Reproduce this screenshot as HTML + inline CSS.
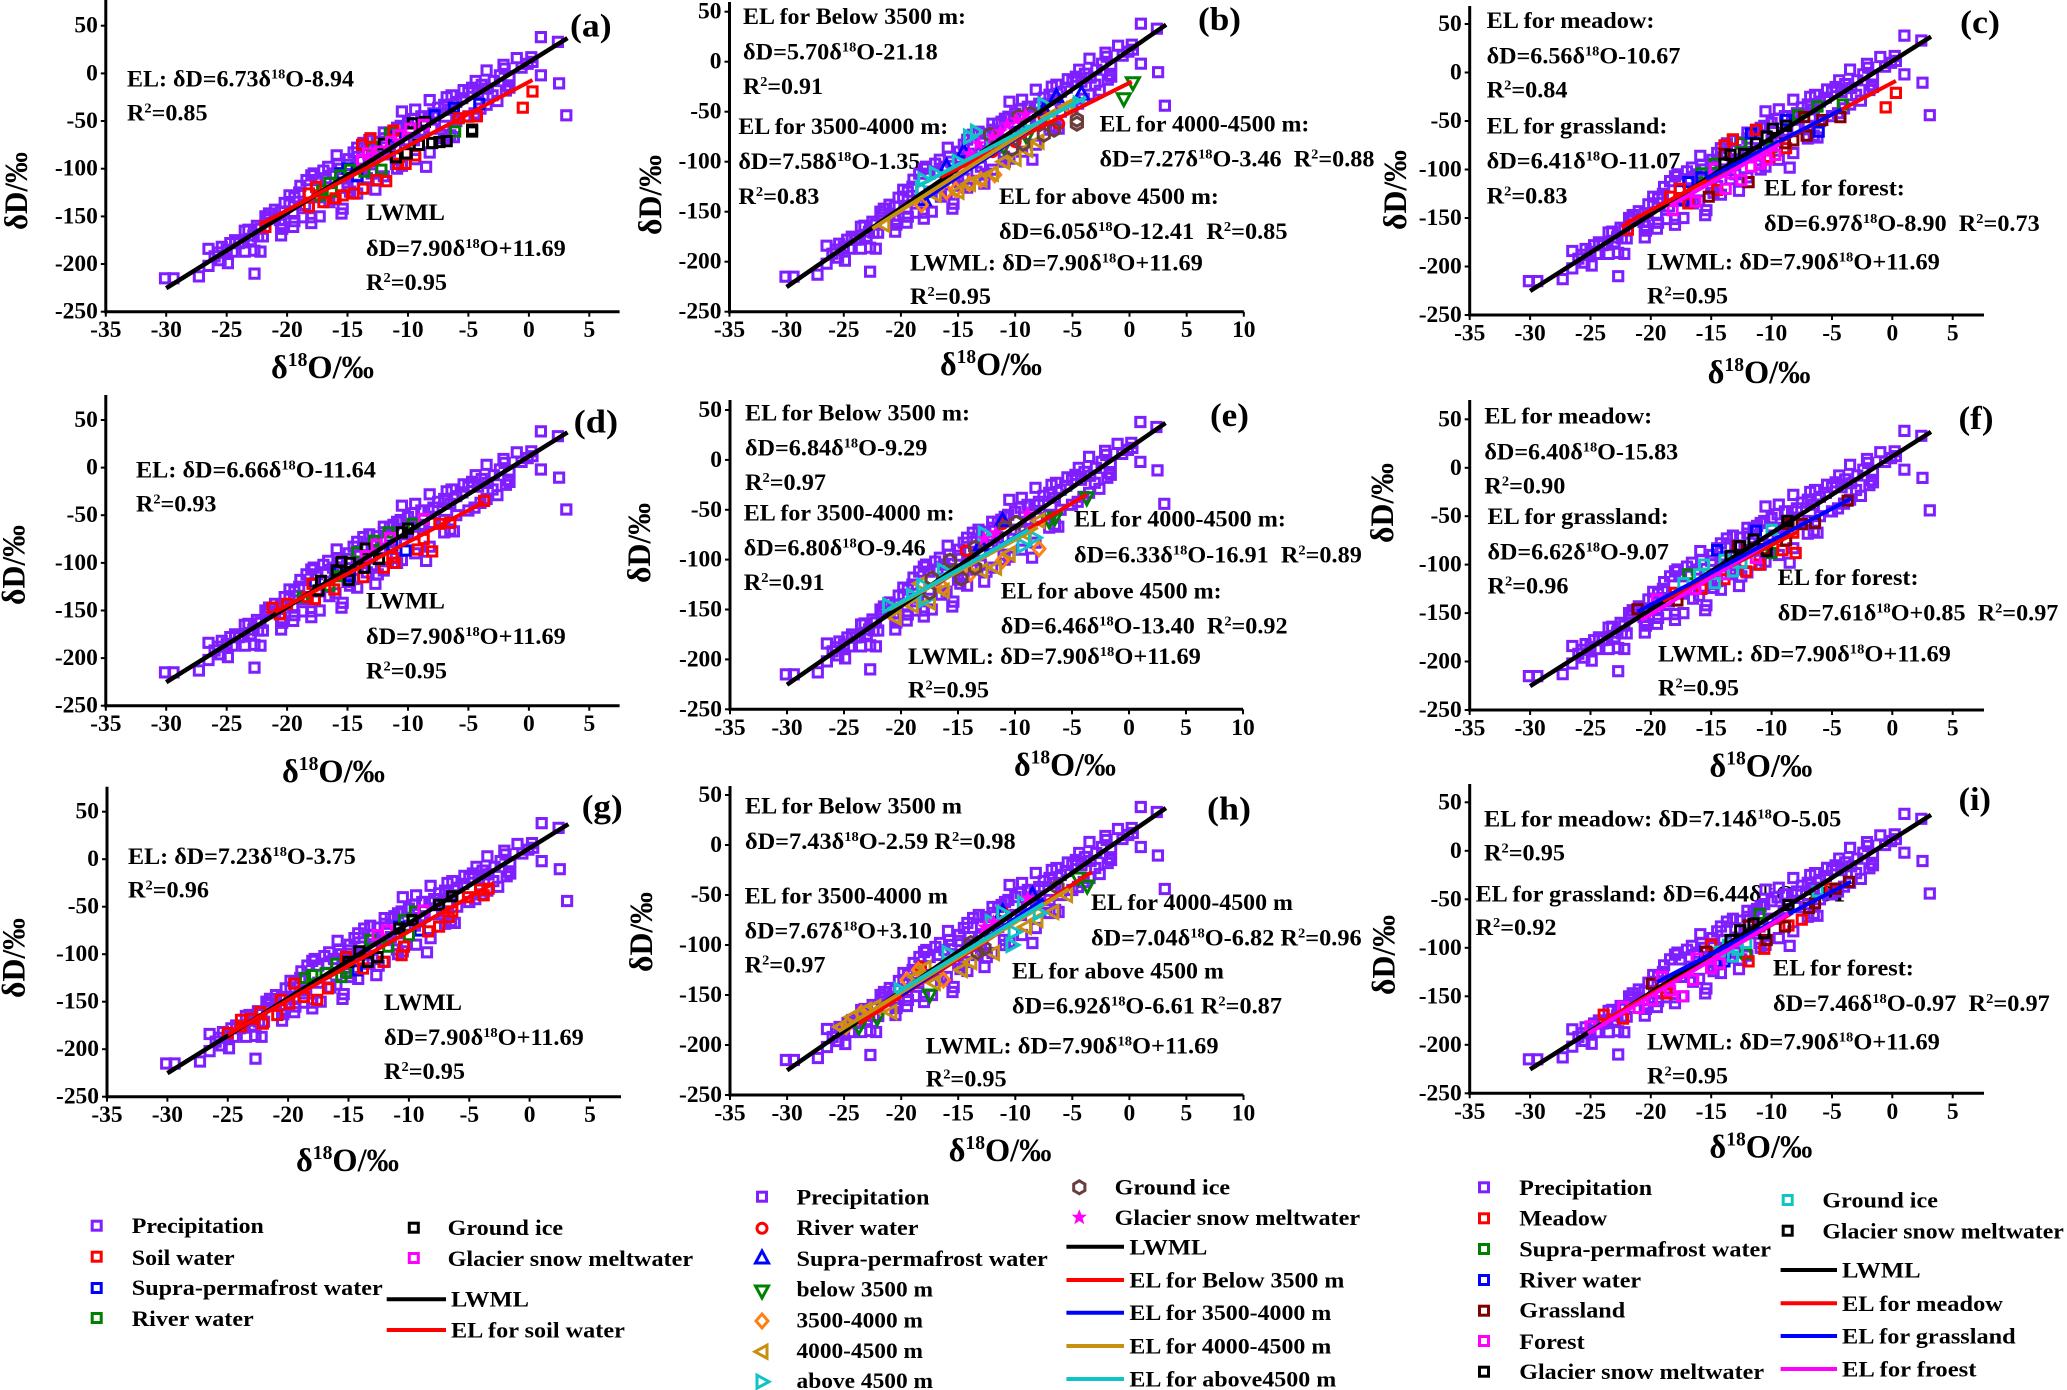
<!DOCTYPE html>
<html lang="en">
<head>
<meta charset="utf-8">
<title>Isotope scatter panels</title>
<style>
html,body{margin:0;padding:0;background:#fff;}
svg{display:block;}
text{font-family:"Liberation Serif","DejaVu Serif",serif;font-weight:bold;fill:#000;}
.t{font-size:23.5px;}
.s{font-size:14px;}
.p{font-size:33px;}
.ax{font-size:33px;}
.S{font-size:20px;}
.l{font-size:22.5px;}
.tick{font-size:23px;}
</style>
</head>
<body>
<svg id="chart" xmlns="http://www.w3.org/2000/svg" width="2067" height="1390" viewBox="0 0 2067 1390">
<rect width="2067" height="1390" fill="#fff"/>

<g id="panel-a">
<text class="t" x="127" y="86.7" data-w="227">EL: δD=6.73δ<tspan class="s" dy="-8">18</tspan><tspan dy="8">O</tspan>-8.94</text>
<text class="t" x="127" y="120.7" data-w="80.6">R<tspan class="s" dy="-8">2</tspan><tspan dy="8">=</tspan>0.85</text>
<text class="t" x="366" y="220" data-w="79">LWML</text>
<text class="t" x="366" y="256" data-w="200">δD=7.90δ<tspan class="s" dy="-8">18</tspan><tspan dy="8">O</tspan>+11.69</text>
<text class="t" x="366" y="290" data-w="81">R<tspan class="s" dy="-8">2</tspan><tspan dy="8">=</tspan>0.95</text>
<text class="p" x="570" y="36.7" data-w="41.6">(a)</text>
<text class="ax" x="27" y="230" transform="rotate(-90 27 230)" data-w="78">δD/‰</text>
<text class="ax" x="271" y="378" data-w="103">δ<tspan class="S" dy="-12">18</tspan><tspan dy="12">O</tspan>/‰</text>
</g>

<g id="panel-b">
<text class="t" x="743" y="24" data-w="223">EL for Below 3500 m:</text>
<text class="t" x="743" y="59.3" data-w="195">δD=5.70δ<tspan class="s" dy="-8">18</tspan><tspan dy="8">O</tspan>-21.18</text>
<text class="t" x="743" y="94" data-w="80">R<tspan class="s" dy="-8">2</tspan><tspan dy="8">=</tspan>0.91</text>
<text class="t" x="738.4" y="134" data-w="210">EL for 3500-4000 m:</text>
<text class="t" x="738.4" y="169" data-w="182">δD=7.58δ<tspan class="s" dy="-8">18</tspan><tspan dy="8">O</tspan>-1.35</text>
<text class="t" x="738.4" y="204" data-w="81">R<tspan class="s" dy="-8">2</tspan><tspan dy="8">=</tspan>0.83</text>
<text class="t" x="1099.5" y="131.7" data-w="210">EL for 4000-4500 m:</text>
<text class="t" x="1099.5" y="166.7" data-w="275" xml:space="preserve">δD=7.27δ<tspan class="s" dy="-8">18</tspan><tspan dy="8">O</tspan>-3.46  R<tspan class="s" dy="-8">2</tspan><tspan dy="8">=</tspan>0.88</text>
<text class="t" x="999" y="204" data-w="220">EL for above 4500 m:</text>
<text class="t" x="999" y="239" data-w="288.5" xml:space="preserve">δD=6.05δ<tspan class="s" dy="-8">18</tspan><tspan dy="8">O</tspan>-12.41  R<tspan class="s" dy="-8">2</tspan><tspan dy="8">=</tspan>0.85</text>
<text class="t" x="910" y="270.7" data-w="293">LWML: δD=7.90δ<tspan class="s" dy="-8">18</tspan><tspan dy="8">O</tspan>+11.69</text>
<text class="t" x="910" y="304" data-w="81">R<tspan class="s" dy="-8">2</tspan><tspan dy="8">=</tspan>0.95</text>
<text class="p" x="1198" y="30" data-w="43">(b)</text>
<text class="ax" x="661" y="235" transform="rotate(-90 661 235)" data-w="80">δD/‰</text>
<text class="ax" x="940" y="375" data-w="102">δ<tspan class="S" dy="-12">18</tspan><tspan dy="12">O</tspan>/‰</text>
</g>

<g id="panel-c">
<text class="t" x="1486.6" y="28" data-w="168">EL for meadow:</text>
<text class="t" x="1486.6" y="63.3" data-w="194">δD=6.56δ<tspan class="s" dy="-8">18</tspan><tspan dy="8">O</tspan>-10.67</text>
<text class="t" x="1486.6" y="97.3" data-w="81">R<tspan class="s" dy="-8">2</tspan><tspan dy="8">=</tspan>0.84</text>
<text class="t" x="1486.6" y="133.3" data-w="181">EL for grassland:</text>
<text class="t" x="1486.6" y="168.3" data-w="194">δD=6.41δ<tspan class="s" dy="-8">18</tspan><tspan dy="8">O</tspan>-11.07</text>
<text class="t" x="1486.6" y="203.3" data-w="81">R<tspan class="s" dy="-8">2</tspan><tspan dy="8">=</tspan>0.83</text>
<text class="t" x="1764" y="195.7" data-w="141">EL for forest:</text>
<text class="t" x="1764" y="231" data-w="276" xml:space="preserve">δD=6.97δ<tspan class="s" dy="-8">18</tspan><tspan dy="8">O</tspan>-8.90  R<tspan class="s" dy="-8">2</tspan><tspan dy="8">=</tspan>0.73</text>
<text class="t" x="1647" y="269.3" data-w="293">LWML: δD=7.90δ<tspan class="s" dy="-8">18</tspan><tspan dy="8">O</tspan>+11.69</text>
<text class="t" x="1647" y="303.3" data-w="81">R<tspan class="s" dy="-8">2</tspan><tspan dy="8">=</tspan>0.95</text>
<text class="p" x="1960" y="33" data-w="40">(c)</text>
<text class="ax" x="1406" y="230" transform="rotate(-90 1406 230)" data-w="80">δD/‰</text>
<text class="ax" x="1707.6" y="383" data-w="103">δ<tspan class="S" dy="-12">18</tspan><tspan dy="12">O</tspan>/‰</text>
</g>

<g id="panel-d">
<text class="t" x="136" y="477.3" data-w="240">EL: δD=6.66δ<tspan class="s" dy="-8">18</tspan><tspan dy="8">O</tspan>-11.64</text>
<text class="t" x="136" y="511.7" data-w="80.5">R<tspan class="s" dy="-8">2</tspan><tspan dy="8">=</tspan>0.93</text>
<text class="t" x="366" y="608.3" data-w="79">LWML</text>
<text class="t" x="366" y="644" data-w="200">δD=7.90δ<tspan class="s" dy="-8">18</tspan><tspan dy="8">O</tspan>+11.69</text>
<text class="t" x="366" y="678.3" data-w="81">R<tspan class="s" dy="-8">2</tspan><tspan dy="8">=</tspan>0.95</text>
<text class="p" x="573.7" y="432.7" data-w="44.5">(d)</text>
<text class="ax" x="24.5" y="605" transform="rotate(-90 24.5 605)" data-w="80">δD/‰</text>
<text class="ax" x="282" y="782" data-w="103">δ<tspan class="S" dy="-12">18</tspan><tspan dy="12">O</tspan>/‰</text>
</g>

<g id="panel-e">
<text class="t" x="745" y="420.7" data-w="225">EL for Below 3500 m:</text>
<text class="t" x="745" y="455.7" data-w="182.5">δD=6.84δ<tspan class="s" dy="-8">18</tspan><tspan dy="8">O</tspan>-9.29</text>
<text class="t" x="745" y="490" data-w="81">R<tspan class="s" dy="-8">2</tspan><tspan dy="8">=</tspan>0.97</text>
<text class="t" x="743.7" y="520.7" data-w="211">EL for 3500-4000 m:</text>
<text class="t" x="743.7" y="555.7" data-w="182">δD=6.80δ<tspan class="s" dy="-8">18</tspan><tspan dy="8">O</tspan>-9.46</text>
<text class="t" x="743.7" y="590" data-w="81">R<tspan class="s" dy="-8">2</tspan><tspan dy="8">=</tspan>0.91</text>
<text class="t" x="1074" y="526.7" data-w="212">EL for 4000-4500 m:</text>
<text class="t" x="1074" y="562.3" data-w="288" xml:space="preserve">δD=6.33δ<tspan class="s" dy="-8">18</tspan><tspan dy="8">O</tspan>-16.91  R<tspan class="s" dy="-8">2</tspan><tspan dy="8">=</tspan>0.89</text>
<text class="t" x="1000.7" y="598.3" data-w="221">EL for above 4500 m:</text>
<text class="t" x="1000.7" y="633.3" data-w="287" xml:space="preserve">δD=6.46δ<tspan class="s" dy="-8">18</tspan><tspan dy="8">O</tspan>-13.40  R<tspan class="s" dy="-8">2</tspan><tspan dy="8">=</tspan>0.92</text>
<text class="t" x="908" y="664" data-w="293">LWML: δD=7.90δ<tspan class="s" dy="-8">18</tspan><tspan dy="8">O</tspan>+11.69</text>
<text class="t" x="908" y="697.3" data-w="81">R<tspan class="s" dy="-8">2</tspan><tspan dy="8">=</tspan>0.95</text>
<text class="p" x="1210" y="426" data-w="39">(e)</text>
<text class="ax" x="650" y="583" transform="rotate(-90 650 583)" data-w="80">δD/‰</text>
<text class="ax" x="1014" y="775.7" data-w="102">δ<tspan class="S" dy="-12">18</tspan><tspan dy="12">O</tspan>/‰</text>
</g>

<g id="panel-f">
<text class="t" x="1484.4" y="423.3" data-w="168">EL for meadow:</text>
<text class="t" x="1484.4" y="459.3" data-w="194">δD=6.40δ<tspan class="s" dy="-8">18</tspan><tspan dy="8">O</tspan>-15.83</text>
<text class="t" x="1484.4" y="493.3" data-w="81">R<tspan class="s" dy="-8">2</tspan><tspan dy="8">=</tspan>0.90</text>
<text class="t" x="1487.5" y="524" data-w="181.5">EL for grassland:</text>
<text class="t" x="1487.5" y="559.3" data-w="181.5">δD=6.62δ<tspan class="s" dy="-8">18</tspan><tspan dy="8">O</tspan>-9.07</text>
<text class="t" x="1487.5" y="593.3" data-w="81">R<tspan class="s" dy="-8">2</tspan><tspan dy="8">=</tspan>0.96</text>
<text class="t" x="1777.7" y="585" data-w="141">EL for forest:</text>
<text class="t" x="1777.7" y="620.7" data-w="281" xml:space="preserve">δD=7.61δ<tspan class="s" dy="-8">18</tspan><tspan dy="8">O</tspan>+0.85  R<tspan class="s" dy="-8">2</tspan><tspan dy="8">=</tspan>0.97</text>
<text class="t" x="1658" y="661.7" data-w="293">LWML: δD=7.90δ<tspan class="s" dy="-8">18</tspan><tspan dy="8">O</tspan>+11.69</text>
<text class="t" x="1658" y="695.7" data-w="81">R<tspan class="s" dy="-8">2</tspan><tspan dy="8">=</tspan>0.95</text>
<text class="p" x="1958.5" y="429" data-w="35">(f)</text>
<text class="ax" x="1393" y="543" transform="rotate(-90 1393 543)" data-w="80">δD/‰</text>
<text class="ax" x="1709.4" y="776.7" data-w="103">δ<tspan class="S" dy="-12">18</tspan><tspan dy="12">O</tspan>/‰</text>
</g>

<g id="panel-g">
<text class="t" x="128" y="864" data-w="228">EL: δD=7.23δ<tspan class="s" dy="-8">18</tspan><tspan dy="8">O</tspan>-3.75</text>
<text class="t" x="128" y="897.7" data-w="81">R<tspan class="s" dy="-8">2</tspan><tspan dy="8">=</tspan>0.96</text>
<text class="t" x="384" y="1010" data-w="78">LWML</text>
<text class="t" x="384" y="1045" data-w="200">δD=7.90δ<tspan class="s" dy="-8">18</tspan><tspan dy="8">O</tspan>+11.69</text>
<text class="t" x="384" y="1079" data-w="81">R<tspan class="s" dy="-8">2</tspan><tspan dy="8">=</tspan>0.95</text>
<text class="p" x="581.7" y="817.3" data-w="41">(g)</text>
<text class="ax" x="24.5" y="998" transform="rotate(-90 24.5 998)" data-w="80">δD/‰</text>
<text class="ax" x="296" y="1171" data-w="103">δ<tspan class="S" dy="-12">18</tspan><tspan dy="12">O</tspan>/‰</text>
</g>

<g id="panel-h">
<text class="t" x="745" y="813.3" data-w="217">EL for Below 3500 m</text>
<text class="t" x="745" y="849" data-w="271">δD=7.43δ<tspan class="s" dy="-8">18</tspan><tspan dy="8">O</tspan>-2.59 R<tspan class="s" dy="-8">2</tspan><tspan dy="8">=</tspan>0.98</text>
<text class="t" x="744.6" y="903.3" data-w="203.5">EL for 3500-4000 m</text>
<text class="t" x="744.6" y="938.3" data-w="187.5">δD=7.67δ<tspan class="s" dy="-8">18</tspan><tspan dy="8">O</tspan>+3.10</text>
<text class="t" x="744.6" y="972.3" data-w="81">R<tspan class="s" dy="-8">2</tspan><tspan dy="8">=</tspan>0.97</text>
<text class="t" x="1091" y="910" data-w="202">EL for 4000-4500 m</text>
<text class="t" x="1091" y="945.7" data-w="271">δD=7.04δ<tspan class="s" dy="-8">18</tspan><tspan dy="8">O</tspan>-6.82 R<tspan class="s" dy="-8">2</tspan><tspan dy="8">=</tspan>0.96</text>
<text class="t" x="1012" y="978.3" data-w="212">EL for above 4500 m</text>
<text class="t" x="1012" y="1013.3" data-w="270">δD=6.92δ<tspan class="s" dy="-8">18</tspan><tspan dy="8">O</tspan>-6.61 R<tspan class="s" dy="-8">2</tspan><tspan dy="8">=</tspan>0.87</text>
<text class="t" x="925.7" y="1053.3" data-w="293">LWML: δD=7.90δ<tspan class="s" dy="-8">18</tspan><tspan dy="8">O</tspan>+11.69</text>
<text class="t" x="925.7" y="1086.7" data-w="81">R<tspan class="s" dy="-8">2</tspan><tspan dy="8">=</tspan>0.95</text>
<text class="p" x="1207" y="819.3" data-w="44">(h)</text>
<text class="ax" x="652" y="972" transform="rotate(-90 652 972)" data-w="80">δD/‰</text>
<text class="ax" x="948.6" y="1161" data-w="103">δ<tspan class="S" dy="-12">18</tspan><tspan dy="12">O</tspan>/‰</text>
</g>

<g id="panel-i">
<text class="t" x="1484" y="826.7" data-w="357.6">EL for meadow: δD=7.14δ<tspan class="s" dy="-8">18</tspan><tspan dy="8">O</tspan>-5.05</text>
<text class="t" x="1484" y="860.7" data-w="81">R<tspan class="s" dy="-8">2</tspan><tspan dy="8">=</tspan>0.95</text>
<text class="t" x="1475.5" y="901.7" data-w="370">EL for grassland: δD=6.44δ<tspan class="s" dy="-8">18</tspan><tspan dy="8">O</tspan>-9.91</text>
<text class="t" x="1475.5" y="935" data-w="81">R<tspan class="s" dy="-8">2</tspan><tspan dy="8">=</tspan>0.92</text>
<text class="t" x="1773" y="975.7" data-w="141">EL for forest:</text>
<text class="t" x="1773" y="1011" data-w="277" xml:space="preserve">δD=7.46δ<tspan class="s" dy="-8">18</tspan><tspan dy="8">O</tspan>-0.97  R<tspan class="s" dy="-8">2</tspan><tspan dy="8">=</tspan>0.97</text>
<text class="t" x="1647" y="1049.3" data-w="293">LWML: δD=7.90δ<tspan class="s" dy="-8">18</tspan><tspan dy="8">O</tspan>+11.69</text>
<text class="t" x="1647" y="1083.3" data-w="81">R<tspan class="s" dy="-8">2</tspan><tspan dy="8">=</tspan>0.95</text>
<text class="p" x="1958.5" y="810" data-w="32.5">(i)</text>
<text class="ax" x="1394.7" y="995" transform="rotate(-90 1394.7 995)" data-w="80">δD/‰</text>
<text class="ax" x="1709.4" y="1157.7" data-w="103">δ<tspan class="S" dy="-12">18</tspan><tspan dy="12">O</tspan>/‰</text>
</g>

<g id="legend-left" fill="none" stroke-width="3">
<rect x="92.2" y="1221.2" width="9" height="9" stroke="#7f1fff"/>
<text class="l" x="131.8" y="1233" data-w="132" stroke="none">Precipitation</text>
<rect x="92.2" y="1252.2" width="9" height="9" stroke="#ff0000"/>
<text class="l" x="131.8" y="1265" data-w="103" stroke="none">Soil water</text>
<rect x="92.2" y="1283.5" width="9" height="9" stroke="#0000ff"/>
<text class="l" x="131.8" y="1295" data-w="251" stroke="none">Supra-permafrost water</text>
<rect x="92.2" y="1313.5" width="9" height="9" stroke="#008000"/>
<text class="l" x="131.8" y="1326" data-w="122" stroke="none">River water</text>
<rect x="409.3" y="1223.2" width="9" height="9" stroke="#000"/>
<text class="l" x="447.6" y="1235" data-w="115.6" stroke="none">Ground ice</text>
<rect x="409.3" y="1253.5" width="9" height="9" stroke="#ff00ff"/>
<text class="l" x="447.6" y="1266" data-w="245.5" stroke="none">Glacier snow meltwater</text>
<line x1="386.7" x2="446" y1="1299.3" y2="1299.3" stroke="#000" stroke-width="4"/>
<text class="l" x="451" y="1306.7" data-w="78" stroke="none">LWML</text>
<line x1="386.7" x2="446" y1="1330" y2="1330" stroke="#ff0000" stroke-width="4"/>
<text class="l" x="451" y="1337.7" data-w="174" stroke="none">EL for soil water</text>
</g>

<g id="legend-middle" fill="none" stroke-width="3">
<rect x="757.5" y="1192.2" width="9" height="9" stroke="#7f1fff"/>
<text class="l" x="796.5" y="1204.3" data-w="133" stroke="none">Precipitation</text>
<circle cx="762" cy="1228.3" r="5" stroke="#ff0000"/>
<text class="l" x="796.5" y="1235" data-w="122" stroke="none">River water</text>
<path transform="translate(762 1258)" d="M0,-7L6.5,5L-6.5,5Z" stroke="#0000ff"/>
<text class="l" x="796.5" y="1266" data-w="251.5" stroke="none">Supra-permafrost water</text>
<path transform="translate(762 1291)" d="M0,7L6.5,-5L-6.5,-5Z" stroke="#008000"/>
<text class="l" x="796.5" y="1296.7" data-w="136.6" stroke="none">below 3500 m</text>
<path transform="translate(762 1321)" d="M0,-7L6,0L0,7L-6,0Z" stroke="#ff7f10"/>
<text class="l" x="796.5" y="1327.7" data-w="126.5" stroke="none">3500-4000 m</text>
<path transform="translate(762 1351.7)" d="M-7,0L5,-6.5L5,6.5Z" stroke="#c8900f"/>
<text class="l" x="796.5" y="1358" data-w="126.5" stroke="none">4000-4500 m</text>
<path transform="translate(762 1381.7)" d="M7,0L-5,-6.5L-5,6.5Z" stroke="#10c4c4"/>
<text class="l" x="796.5" y="1388" data-w="136.6" stroke="none">above 4500 m</text>
<path transform="translate(1079.3 1187.3)" d="M0,-6.5L5.6,-3.2L5.6,3.2L0,6.5L-5.6,3.2L-5.6,-3.2Z" stroke="#6b3e3e"/>
<text class="l" x="1114.6" y="1194.3" data-w="115.6" stroke="none">Ground ice</text>
<path transform="translate(1079.3 1217.3)" d="M0,-8L2.2,-2.5L7.6,-2.5L3.3,1L5,7L0,3.6L-5,7L-3.3,1L-7.6,-2.5L-2.2,-2.5Z" fill="#ff00ff" stroke="none"/>
<text class="l" x="1114.6" y="1225" data-w="245.5" stroke="none">Glacier snow meltwater</text>
<line x1="1066.4" x2="1124" y1="1246.7" y2="1246.7" stroke="#000" stroke-width="4"/>
<text class="l" x="1129.4" y="1254.3" data-w="78" stroke="none">LWML</text>
<line x1="1066.4" x2="1124" y1="1280" y2="1280" stroke="#ff0000" stroke-width="4"/>
<text class="l" x="1129.4" y="1287.7" data-w="215" stroke="none">EL for Below 3500 m</text>
<line x1="1066.4" x2="1124" y1="1312.7" y2="1312.7" stroke="#0000ff" stroke-width="4"/>
<text class="l" x="1129.4" y="1320" data-w="202" stroke="none">EL for 3500-4000 m</text>
<line x1="1066.4" x2="1124" y1="1346" y2="1346" stroke="#c8900f" stroke-width="4"/>
<text class="l" x="1129.4" y="1353.3" data-w="202" stroke="none">EL for 4000-4500 m</text>
<line x1="1066.4" x2="1124" y1="1379" y2="1379" stroke="#10c4c4" stroke-width="4"/>
<text class="l" x="1129.4" y="1386.7" data-w="207" stroke="none">EL for above4500 m</text>
</g>

<g id="legend-right" fill="none" stroke-width="3">
<rect x="1479.5" y="1182.8" width="9" height="9" stroke="#7f1fff"/>
<text class="l" x="1519.2" y="1195" data-w="133" stroke="none">Precipitation</text>
<rect x="1479.5" y="1213.8" width="9" height="9" stroke="#ff0000"/>
<text class="l" x="1519.2" y="1225.7" data-w="88" stroke="none">Meadow</text>
<rect x="1479.5" y="1244.5" width="9" height="9" stroke="#008000"/>
<text class="l" x="1519.2" y="1256.7" data-w="252" stroke="none">Supra-permafrost water</text>
<rect x="1479.5" y="1275.5" width="9" height="9" stroke="#0000ff"/>
<text class="l" x="1519.2" y="1287.3" data-w="122" stroke="none">River water</text>
<rect x="1479.5" y="1306.2" width="9" height="9" stroke="#800000"/>
<text class="l" x="1519.2" y="1317.7" data-w="106" stroke="none">Grassland</text>
<rect x="1479.5" y="1336.5" width="9" height="9" stroke="#ff00ff"/>
<text class="l" x="1519.2" y="1349" data-w="65.5" stroke="none">Forest</text>
<rect x="1479.5" y="1367.2" width="9" height="9" stroke="#000"/>
<text class="l" x="1519.2" y="1379" data-w="245" stroke="none">Glacier snow meltwater</text>
<rect x="1783.2" y="1195.5" width="9" height="9" stroke="#10c4c4"/>
<text class="l" x="1822.4" y="1207.7" data-w="115.6" stroke="none">Ground ice</text>
<rect x="1783.2" y="1226.2" width="9" height="9" stroke="#000"/>
<text class="l" x="1822.4" y="1238.3" data-w="241.6" stroke="none">Glacier snow meltwater</text>
<line x1="1780.6" x2="1837" y1="1270" y2="1270" stroke="#000" stroke-width="4"/>
<text class="l" x="1842" y="1277.7" data-w="78.6" stroke="none">LWML</text>
<line x1="1780.6" x2="1837" y1="1303.3" y2="1303.3" stroke="#ff0000" stroke-width="4"/>
<text class="l" x="1842" y="1311" data-w="161" stroke="none">EL for meadow</text>
<line x1="1780.6" x2="1837" y1="1336" y2="1336" stroke="#0000ff" stroke-width="4"/>
<text class="l" x="1842" y="1343.3" data-w="173.7" stroke="none">EL for grassland</text>
<line x1="1780.6" x2="1837" y1="1369" y2="1369" stroke="#ff00ff" stroke-width="4"/>
<text class="l" x="1842" y="1376.7" data-w="134.5" stroke="none">EL for froest</text>
</g>
</svg>

<script>
/* ---------- shared data ---------- */
const xTicksShort = ['-35','-30','-25','-20','-15','-10','-5','0','5'];
const xTicksLong = ['-35','-30','-25','-20','-15','-10','-5','0','5','10'];
const yTicks = ['50','0','-50','-100','-150','-200','-250'];

const precipX = [-30.1,-29.4,-27.3,-22.7,-26.5,-24.9,-25.5,-26,-26.5,-25.4,-24.7,-24.3,-24.5,-23.5,-22.7,-22.2,-23.6,-23.2,-22.4,-22,-22.2,-20.5,-20.4,-19.5,-19.4,-21.8,-21,-20.2,-19.8,-20.6,-18.7,-18,-17.3,-18,-18.9,-18,-17,-15.9,-15.5,-15.4,-14.2,-12.7,-10.5,-9.4,-8.2,-6.8,-6.4,-5.4,-4.4,-3.5,-2.1,-1,0.2,1,2.4,1,2.5,3.1,-8.5,-19.4,-19,-18.4,-17.8,-16.8,-16.2,-15.6,-15,-14.9,-14.5,-14.2,-13.7,-13.2,-12.6,-12,-11.5,-11.2,-10.6,-10,-9.5,-8.9,-8.3,-7.9,-7.5,-7,-6.5,-6,-5.5,-5,-4.7,-4.2,-3.9,-3.4,-3,-2.9,-2.6,-2.4,-2,-1.7,-1.6,-1.6,-0.6,-0.1,0.3,-1.9,-6.5,-7,-6.2,-8.2,-9.4,-10.5,-10.9,-11,-12,-12.5,-13.4,-14.5,-14.8,-16,-16.5,-15,-17.5,-18.5,-19.5,-20.5,-21,-21.5,-21.7,-22.8,-23.5,-24,-25,-25.7,-5,-4.5,-4,-3.5,-6,-7,-8,-9,-10,-11,-12,-13,-14,-17.5,-16.6,-15.8,-19.8,-13,-12,-10.9,-14,-11.5,-9.5,-8.7,-20.5,-22.5,-23,-13,-15.5];
const precipY = [-215,-215,-213,-210,-202,-199,-196,-192,-184,-182,-178,-175,-187,-187,-186,-187,-177,-164,-171,-171,-163,-170,-163,-161,-155,-150,-143,-136,-135,-154,-151,-157,-150,-151,-118,-107,-102,-86,-147,-142,-126,-122,-40,-38,-28,-25,-23,-17.5,-8,3,9,16,17,38,33,-2,-10.5,-44,-98,-130,-125,-112,-105,-110,-105,-100,-96,-90,-83,-78,-73,-70,-72,-68,-62,-60,-55,-52,-48,-45,-45,-42,-36,-33,-38,-30,-26,-20,-15,-20,-12,-16,-23,-8,-29,-2,5,-13,-3,-15,6,10,12,-18,-65,-68,-67,-83,-90,-97,-100,-95,-108,-112,-110,-117,-124,-132,-135,-120,-130,-138,-147,-158,-152,-147,-153,-170,-165,-178,-185,-188,-45,-42,-37,-33,-50,-55,-58,-62,-70,-78,-85,-92,-100,-112,-98,-95,-128,-80,-62,-57,-92,-82,-70,-60,-145,-160,-175,-105,-110];

const lwmlX = [-30,3.2];
const lwmlY = [-225.3,37];

/* ---------- panel a ---------- */
const aSupraX = [-15.6,-15,-7.8,-6.2,-4.1,-11,-14.2];
const aSupraY = [-105,-100,-44,-36,-32,-66,-108];
const aRiverX = [-17.1,-16.5,-15.6,-14.8,-13.6,-12.2,-17.3,-16.3,-6.1,-11.5,-12.9];
const aRiverY = [-123,-115,-107,-101,-103,-101,-128,-124,-61,-63,-77];
const aSoilX = [-21.8,-18.2,-18.2,-17.6,-15.4,-16,-17,-14.5,-13.7,-12.6,-11.8,-10.8,-10.2,-13.8,-13.1,-9.4,-11.2,-5.8,-5,-4.3,-0.5,0.3];
const aSoilY = [-161,-140,-126,-119,-128,-131,-135,-126,-121,-112,-113,-95,-95,-75,-68,-86,-60,-47,-45.5,-45,-36,-19];
const aIceX = [-4.7,-4.7,-7.4,-6.8,-8,-9.1,-10.1,-11,-9.6,-8.6,-12];
const aIceY = [-59,-61,-72,-71,-73,-75,-84,-88,-52.5,-51,-74];
const aGlacierX = [-13.8,-13.3,-12.3,-11.4,-10.8,-9.8,-8.7,-12.9];
const aGlacierY = [-91,-84,-82,-72,-65,-58,-54,-88];
const aElX = [-22,0.3];
const aElY = [-157,-7];

/* ---------- panel b ---------- */
const bRiverX = [-6.2,-7.5,-10,-12,-14,-16];
const bRiverY = [-62,-55,-80,-90,-100,-115];
const bSupraX = [-6.4,-4.2,-7.5,-14.5,-16,-18];
const bSupraY = [-35,-32,-48,-90,-105,-138];
const bBelowX = [0.3,-0.5,-9,-11];
const bBelowY = [-21,-37,-75,-85];
const bMidX = [-18.2,-15.2,-11.8,-13,-14,-16];
const bMidY = [-143,-128,-113,-118,-122,-130];
const bHighX = [-21.5,-17,-15,-14,-13,-12,-11,-10,-9,-8,-5.5,-7];
const bHighY = [-163,-133,-130,-122,-118,-112,-100,-97,-88,-80,-45,-55];
const bAboveX = [-13.4,-14,-18,-18.2,-17,-7.5,-4.4,-9,-12,-15];
const bAboveY = [-70,-75,-118,-127,-112,-43,-42,-68,-80,-100];
const bIceX = [-4.6,-4.6,-7.5,-6.6,-9.3,-10.3,-8.7,-9.7,-12.2];
const bIceY = [-58,-62,-73,-68,-82,-87,-52,-55,-73];
const bGlacierX = [-10.7,-9.9,-14,-13.2,-9.1,-12,-11.3];
const bGlacierY = [-63,-58,-92,-82,-53,-75,-70];
const bElBelowX = [-16.5,0.2];
const bElBelowY = [-115.2,-20];
const bElMidX = [-18,-6.5];
const bElMidY = [-137.8,-50.6];
const bElHighX = [-22.5,-5];
const bElHighY = [-167,-39.8];
const bElAboveX = [-18.5,-3.8];
const bElAboveY = [-124.3,-35.4];

/* ---------- panel c ---------- */
const cMeadowX = [-21.9,-18.4,-17.6,-13.2,-13.9,-11.3,-0.55,0.3,-8.8,-14.5,-16.9,-10.2];
const cMeadowY = [-162,-128,-120,-69,-75,-59,-36,-21,-78,-121,-135,-87];
const cSupraX = [-4.1,-6.2,-7.8,-14.7,-15.8,-12.5,-10];
const cSupraY = [-33,-35,-44,-94,-104,-73,-77];
const cRiverX = [-6.1,-8.8,-11.7,-17.6,-16.9,-15.8,-17.3];
const cRiverY = [-61,-49,-63,-121,-113,-108,-132];
const cGrassX = [-4.3,-5.8,-7.1,-7.3,-8.2,-8.9,-11.9,-15.2,-13.9];
const cGrassY = [-46,-49,-65,-46,-70,-73,-113,-128,-84];
const cForestX = [-9.7,-11,-12.5,-13.8,-16.3,-18.2,-14.7,-11.7,-13.4,-10.4];
const cForestY = [-85,-94,-111,-120,-133,-142,-99,-97,-104,-90];
const cGlacierX = [-8.8,-9.9,-10.4,-11.3,-12.3,-13.4,-13.9];
const cGlacierY = [-55,-58,-66,-73,-84,-85,-94];
const cElMeadowX = [-22.1,0.3];
const cElMeadowY = [-155.7,-8.7];
const cElGrassX = [-15.4,-4.2];
const cElGrassY = [-109.8,-38];
const cElForestX = [-18.4,-9.3];
const cElForestY = [-137.2,-73.7];

/* ---------- panel d ---------- */
const dSupraX = [-10.2,-11.3,-14.8,-15.7,-17.7];
const dSupraY = [-87,-82,-114,-108,-122];
const dRiverX = [-18.7,-16.5,-15.7,-14.2,-12.8,-11.6,-9.6,-8.7];
const dRiverY = [-136,-124,-114,-89,-77,-68,-59,-54];
const dSoilX = [-21.2,-20.6,-20,-18.3,-17.7,-3.7,-6.5,-7.4,-8,-8.7,-9.2,-11.1,-11.3,-12,-13.7,-16.1,-17.9];
const dSoilY = [-147,-154,-143,-136,-138,-35,-58,-59,-88,-75,-86,-100,-94,-105,-115,-128,-122];
const dIceX = [-17.4,-17.2,-15.9,-15.5,-14.8,-14.9,-13.6,-12.4,-13.5,-10,-10.5];
const dIceY = [-129,-119,-108,-99,-100,-118,-105,-96,-85,-64,-68];
const dGlacierX = [-12.6,-11.5,-8.7,-13.5];
const dGlacierY = [-81,-74,-54,-93];
const dElX = [-21,-3.7];
const dElY = [-151.5,-36.3];

/* ---------- panel e ---------- */
const eRiverX = [-11.1,-14.3];
const eRiverY = [-64,-91];
const eSupraX = [-11.1,-13];
const eSupraY = [-61,-85];
const eBelowX = [-3.7,-6.5,-7];
const eBelowY = [-38,-58,-61];
const eMidX = [-7.9,-13.9,-16.3,-11.1];
const eMidY = [-89,-114,-128,-101];
const eHighX = [-20.5,-10.5,-11.7,-12.9,-17.5,-19,-16.3,-9.1,-7.9,-18.3];
const eHighY = [-158,-94,-108,-111,-143,-146,-131,-74,-61,-124];
const eAboveX = [-21.1,-19,-18.1,-16.3,-12.7,-9.3,-8.3,-17.9];
const eAboveY = [-146,-136,-126,-111,-74,-86,-78,-140];
const eIceX = [-14.7,-13.5,-17.5,-17.3,-15.7,-13.5,-10.9,-9.9];
const eIceY = [-119,-108,-133,-119,-101,-88,-68,-63];
const eGlacierX = [-11.7,-8.9,-12.7];
const eGlacierY = [-73,-54,-79];
const eElBelowX = [-14,-3.7];
const eElBelowY = [-105,-34.6];
const eElMidX = [-17,-9];
const eElMidY = [-125,-70.7];
const eElHighX = [-21,-8];
const eElHighY = [-149.8,-67.5];
const eElAboveX = [-21.2,-8.8];
const eElAboveY = [-150.4,-70.2];

/* ---------- panel f ---------- */
const fMeadowX = [-8,-9.1,-11,-12.1,-13.9,-15.8,-18,-8.2];
const fMeadowY = [-88,-85,-100,-107,-115,-125,-129,-67];
const fSupraX = [-10,-16.9];
const fSupraY = [-88,-110];
const fRiverX = [-11.3,-14.5];
const fRiverY = [-65,-85];
const fGrassX = [-21.1,-17.8,-3.7,-6.4,-7.5,-8.6,-8.8,-12.8,-10.6];
const fGrassY = [-146,-137,-34,-57,-58,-58,-75,-81,-84];
const fForestX = [-16.3,-19.5,-13.9,-11.3];
const fForestY = [-125,-136,-110,-93];
const fIceX = [-15.6,-14.7,-17.3,-16,-13.2,-12.5,-10,-13.9];
const fIceY = [-100,-119,-119,-110,-107,-98,-64,-95];
const fGlacierX = [-8.7,-11.5,-12.6,-10.4,-13.4];
const fGlacierY = [-55,-74,-81,-86,-91];
const fElMeadowX = [-19,-7.8];
const fElMeadowY = [-137.4,-65.8];
const fElGrassX = [-21.1,-3.4];
const fElGrassY = [-148.7,-31.6];
const fElForestX = [-20.8,-10.2];
const fElForestY = [-157.4,-76.8];

/* ---------- panel g ---------- */
const gSupraX = [-14.3,-10.8,-9.1];
const gSupraY = [-117,-71,-75];
const gRiverX = [-18.6,-18,-16.9,-15.6,-16,-13.2,-11.7,-10.4,-9.5,-10,-15.2];
const gRiverY = [-125,-122,-120,-124,-110,-85,-92,-64,-55,-80,-119];
const gSoilX = [-25,-23.9,-23.9,-23,-22.1,-22.3,-20.9,-20.6,-19.5,-19.9,-18.7,-17.6,-16.7,-15.2,-12.1,-10.6,-10.4,-8.4,-7.5,-6.4,-5.1,-3.8,-3.4,-4.1,-13.8,-6.7];
const gSoilY = [-183,-169,-176,-168,-173,-161,-164,-148,-131,-152,-145,-148,-136,-103,-108,-101,-92,-76,-71,-55,-40,-38,-31,-32,-115,-61];
const gIceX = [-14.1,-12.6,-13.4,-15,-10.8,-7.5,-6.4,-9.7];
const gIceY = [-97,-103,-108,-108,-73,-48,-39,-64];
const gGlacierX = [-12.6,-11.8,-8.8];
const gGlacierY = [-80,-75,-54];
const gElX = [-25,-3];
const gElY = [-184.5,-25.4];

/* ---------- panel h ---------- */
const hRiverX = [-18.3,-11.1];
const hRiverY = [-122,-67];
const hSupraX = [-11.1,-8.5];
const hSupraY = [-67,-50];
const hBelowX = [-23.7,-22.1,-17.5,-3.7,-4.5];
const hBelowY = [-182,-173,-150,-41,-33];
const hMidX = [-18.5,-16.3,-24.7,-23.5,-19.5];
const hMidY = [-125,-135,-180,-168,-135];
const hHighX = [-25.3,-24.3,-23.1,-20.9,-22.3,-17.9,-18.7,-14.7,-13.9,-11.9,-9.1,-8.1,-6.7,-5.5,-17.1];
const hHighY = [-182,-172,-165,-167,-162,-123,-132,-125,-117,-108,-82,-75,-67,-50,-138];
const hAboveX = [-20.1,-10.3,-10.1,-15.9,-12.1,-7.9,-9.3,-11.1];
const hAboveY = [-145,-100,-87,-108,-77,-68,-58,-68];
const hIceX = [-13.3,-13.9,-6.3,-12.7];
const hIceY = [-107,-98,-42,-103];
const hGlacierX = [-12.7,-11.9,-8.9];
const hGlacierY = [-82,-77,-53];
const hElBelowX = [-23.7,-3.3];
const hElBelowY = [-178.7,-27.1];
const hElMidX = [-20,-7.5];
const hElMidY = [-150.3,-54.4];
const hElHighX = [-25.5,-5.3];
const hElHighY = [-186.3,-44.1];
const hElAboveX = [-20.5,-7.5];
const hElAboveY = [-148.5,-58.5];

/* ---------- panel i ---------- */
const iMeadowX = [-23.9,-22.3,-10.6,-11.9,-8.6,-7.5,-15,-18.7,-5.1];
const iMeadowY = [-169,-173,-101,-114,-77,-71,-97,-147,-39];
const iSupraX = [-12.1,-11];
const iSupraY = [-106,-65];
const iRiverX = [-13.9,-15.5];
const iRiverY = [-114,-104];
const iGrassX = [-19.9,-3.6,-4.7,-6.4,-6.9,-8.9,-10.4,-11.9,-15.4];
const iGrassY = [-137,-32,-39,-54,-59,-78,-92,-77,-104];
const iForestX = [-25,-22.3,-21,-19.9,-17.4,-19.1,-16.5,-15,-16.2,-18.4,-14.3];
const iForestY = [-181,-161,-162,-154,-150,-130,-133,-121,-111,-144,-116];
const iIceX = [-12.8,-13.6,-14.3,-13.2,-6.2,-12.1];
const iIceY = [-102,-97,-104,-109,-42,-95];
const iGlacierX = [-8.6,-12.6,-11.5,-10.6,-13.4];
const iGlacierY = [-56,-82,-75,-85,-92];
const iElMeadowX = [-24.1,-8.4];
const iElMeadowY = [-177.1,-65];
const iElGrassX = [-19.5,-3.4];
const iElGrassY = [-135.5,-31.8];
const iElForestX = [-25.2,-8.6];
const iElForestY = [-188.4,-65.1];

/* ---------- styles and panel layout (separate from the values above) ---------- */
const C = {purple:'#7f1fff',red:'#ff0000',blue:'#0000ff',green:'#008000',black:'#000000',magenta:'#ff00ff',orange:'#ff7f10',gold:'#c8900f',cyan:'#10c4c4',brown:'#6b3e3e',maroon:'#800000'};
const SHAPES = {
  square:'M-4.6,-4.6H4.6V4.6H-4.6Z',
  circle:'M-5,0A5,5 0 1,0 5,0A5,5 0 1,0 -5,0Z',
  up:'M0,-7L6.5,5L-6.5,5Z',
  down:'M0,7L6.5,-5L-6.5,-5Z',
  diamond:'M0,-7L6,0L0,7L-6,0Z',
  left:'M-7,0L5,-6.5L5,6.5Z',
  right:'M7,0L-5,-6.5L-5,6.5Z',
  hex:'M0,-6.5L5.6,-3.2L5.6,3.2L0,6.5L-5.6,3.2L-5.6,-3.2Z',
  star:'M0,-8L2.2,-2.5L7.6,-2.5L3.3,1L5,7L0,3.6L-5,7L-3.3,1L-7.6,-2.5L-2.2,-2.5Z'
};
const altitudeSeries = (river,riverY,supra,supraY,below,belowY,mid,midY,high,highY,above,aboveY,ice,iceY,gl,glY) => [
  ['river-water','circle',C.red,river,riverY],
  ['supra-permafrost','up',C.blue,supra,supraY],
  ['below-3500','down',C.green,below,belowY],
  ['m3500-4000','diamond',C.orange,mid,midY],
  ['m4000-4500','left',C.gold,high,highY],
  ['above-4500','right',C.cyan,above,aboveY],
  ['ground-ice','hex',C.brown,ice,iceY],
  ['glacier-meltwater','star',C.magenta,gl,glY]
];
const panels = [
 {id:'a',xA:105.8,xB:589.3,vB:5,xEnd:619.6,yTop:0,y50:25.7,yLow:311.7,ticks:xTicksShort,
  series:[['supra-permafrost','square',C.blue,aSupraX,aSupraY],['river-water','square',C.green,aRiverX,aRiverY],['soil-water','square',C.red,aSoilX,aSoilY],['ground-ice','square',C.black,aIceX,aIceY],['glacier-meltwater','square',C.magenta,aGlacierX,aGlacierY]],
  lines:[['el-soil-water',C.red,aElX,aElY]]},
 {id:'b',xA:729.5,xB:1243.8,vB:10,xEnd:1243.8,yTop:2,y50:11.7,yLow:311.7,ticks:xTicksLong,
  series:altitudeSeries(bRiverX,bRiverY,bSupraX,bSupraY,bBelowX,bBelowY,bMidX,bMidY,bHighX,bHighY,bAboveX,bAboveY,bIceX,bIceY,bGlacierX,bGlacierY),
  lines:[['el-below-3500',C.red,bElBelowX,bElBelowY],['el-3500-4000',C.blue,bElMidX,bElMidY],['el-4000-4500',C.gold,bElHighX,bElHighY],['el-above-4500',C.cyan,bElAboveX,bElAboveY]]},
 {id:'c',xA:1469.7,xB:1952.7,vB:5,xEnd:1984,yTop:6,y50:24,yLow:315,ticks:xTicksShort,
  series:[['supra-permafrost','square',C.green,cSupraX,cSupraY],['river-water','square',C.blue,cRiverX,cRiverY],['meadow','square',C.red,cMeadowX,cMeadowY],['grassland','square',C.maroon,cGrassX,cGrassY],['forest','square',C.magenta,cForestX,cForestY],['glacier-meltwater','square',C.black,cGlacierX,cGlacierY]],
  lines:[['el-meadow',C.red,cElMeadowX,cElMeadowY],['el-grassland',C.blue,cElGrassX,cElGrassY],['el-forest',C.magenta,cElForestX,cElForestY]]},
 {id:'d',xA:105.8,xB:589.3,vB:5,xEnd:619.6,yTop:395,y50:420,yLow:705.7,ticks:xTicksShort,
  series:[['supra-permafrost','square',C.blue,dSupraX,dSupraY],['river-water','square',C.green,dRiverX,dRiverY],['soil-water','square',C.red,dSoilX,dSoilY],['ground-ice','square',C.black,dIceX,dIceY],['glacier-meltwater','square',C.magenta,dGlacierX,dGlacierY]],
  lines:[['el-soil-water',C.red,dElX,dElY]]},
 {id:'e',xA:730,xB:1243,vB:10,xEnd:1243,yTop:400,y50:410,yLow:709.3,ticks:xTicksLong,
  series:altitudeSeries(eRiverX,eRiverY,eSupraX,eSupraY,eBelowX,eBelowY,eMidX,eMidY,eHighX,eHighY,eAboveX,eAboveY,eIceX,eIceY,eGlacierX,eGlacierY),
  lines:[['el-below-3500',C.red,eElBelowX,eElBelowY],['el-3500-4000',C.blue,eElMidX,eElMidY],['el-4000-4500',C.gold,eElHighX,eElHighY],['el-above-4500',C.cyan,eElAboveX,eElAboveY]]},
 {id:'f',xA:1469.7,xB:1952.7,vB:5,xEnd:1984,yTop:400,y50:419.3,yLow:710,ticks:xTicksShort,
  series:[['supra-permafrost','square',C.green,fSupraX,fSupraY],['river-water','square',C.blue,fRiverX,fRiverY],['meadow','square',C.red,fMeadowX,fMeadowY],['grassland','square',C.maroon,fGrassX,fGrassY],['forest','square',C.magenta,fForestX,fForestY],['ground-ice','square',C.cyan,fIceX,fIceY],['glacier-meltwater','square',C.black,fGlacierX,fGlacierY]],
  lines:[['el-meadow',C.red,fElMeadowX,fElMeadowY],['el-forest',C.magenta,fElForestX,fElForestY],['el-grassland',C.blue,fElGrassX,fElGrassY]]},
 {id:'g',xA:107,xB:590,vB:5,xEnd:621,yTop:786.7,y50:811.7,yLow:1096.7,ticks:xTicksShort,
  series:[['supra-permafrost','square',C.blue,gSupraX,gSupraY],['river-water','square',C.green,gRiverX,gRiverY],['soil-water','square',C.red,gSoilX,gSoilY],['ground-ice','square',C.black,gIceX,gIceY],['glacier-meltwater','square',C.magenta,gGlacierX,gGlacierY]],
  lines:[['el-soil-water',C.red,gElX,gElY]]},
 {id:'h',xA:730,xB:1243.5,vB:10,xEnd:1243.5,yTop:786,y50:795,yLow:1095,ticks:xTicksLong,
  series:altitudeSeries(hRiverX,hRiverY,hSupraX,hSupraY,hBelowX,hBelowY,hMidX,hMidY,hHighX,hHighY,hAboveX,hAboveY,hIceX,hIceY,hGlacierX,hGlacierY),
  lines:[['el-below-3500',C.red,hElBelowX,hElBelowY],['el-3500-4000',C.blue,hElMidX,hElMidY],['el-4000-4500',C.gold,hElHighX,hElHighY],['el-above-4500',C.cyan,hElAboveX,hElAboveY]]},
 {id:'i',xA:1469.7,xB:1952.7,vB:5,xEnd:1984,yTop:784,y50:802.3,yLow:1093.3,ticks:xTicksShort,
  series:[['supra-permafrost','square',C.green,iSupraX,iSupraY],['river-water','square',C.blue,iRiverX,iRiverY],['meadow','square',C.red,iMeadowX,iMeadowY],['grassland','square',C.maroon,iGrassX,iGrassY],['ground-ice','square',C.cyan,iIceX,iIceY],['glacier-meltwater','square',C.black,iGlacierX,iGlacierY],['forest','square',C.magenta,iForestX,iForestY]],
  lines:[['el-meadow',C.red,iElMeadowX,iElMeadowY],['el-grassland',C.blue,iElGrassX,iElGrassY],['el-forest',C.magenta,iElForestX,iElForestY]]}
];

const NS = 'http://www.w3.org/2000/svg';

function drawPoint(parent, pid, sname, shape, color, px, py) {
  const el = document.createElementNS(NS, 'path');
  
  
  el.setAttribute('d', SHAPES[shape]);
  el.setAttribute('transform', 'translate(' + px.toFixed(1) + ' ' + py.toFixed(1) + ')');
  if (shape === 'star') {
    el.setAttribute('fill', color);
  } else {
    el.setAttribute('fill', 'none');
    el.setAttribute('stroke', color);
    el.setAttribute('stroke-width', '3');
  }
  parent.appendChild(el);
}

function drawLine(parent, name, color, width, x1, y1, x2, y2) {
  const el = document.createElementNS(NS, 'line');
  
  
  el.setAttribute('x1', x1.toFixed(1));
  el.setAttribute('y1', y1.toFixed(1));
  el.setAttribute('x2', x2.toFixed(1));
  el.setAttribute('y2', y2.toFixed(1));
  el.setAttribute('stroke', color);
  el.setAttribute('stroke-width', width);
  parent.appendChild(el);
}

function drawTick(parent, name, label, anchor, px, py) {
  const el = document.createElementNS(NS, 'text');
  
  
  el.setAttribute('class', 'tick');
  el.setAttribute('text-anchor', anchor);
  el.setAttribute('transform', 'translate(' + px.toFixed(1) + ' ' + py.toFixed(1) + ') scale(1.02 1)');
  el.textContent = label;
  parent.appendChild(el);
}

panels.forEach(function (p) {
  const g = document.getElementById('panel-' + p.id);
  const xPerUnit = (p.xB - p.xA) / (p.vB + 35);
  const yPerUnit = (p.yLow - p.y50) / 300;
  const xScale = function (v) { return p.xA + (v + 35) * xPerUnit; };
  const yScale = function (v) { return p.y50 + (50 - v) * yPerUnit; };

  precipX.forEach(function (v, i) {
    drawPoint(g, p.id, 'precipitation', 'square', C.purple, xScale(v), yScale(precipY[i]));
  });
  p.series.forEach(function (s) {
    s[3].forEach(function (v, i) {
      drawPoint(g, p.id, s[0], s[1], s[2], xScale(v), yScale(s[4][i]));
    });
  });
  drawLine(g, p.id + '-lwml-line', '#000', 4.5, xScale(lwmlX[0]), yScale(lwmlY[0]), xScale(lwmlX[1]), yScale(lwmlY[1]));
  p.lines.forEach(function (l) {
    drawLine(g, p.id + '-' + l[0] + '-line', l[1], 4, xScale(l[2][0]), yScale(l[3][0]), xScale(l[2][1]), yScale(l[3][1]));
  });

  drawLine(g, p.id + '-y-axis', '#000', 3, p.xA, p.yTop, p.xA, p.yLow + 1.5);
  drawLine(g, p.id + '-x-axis', '#000', 3, p.xA - 1.5, p.yLow, p.xEnd, p.yLow);

  p.ticks.forEach(function (lab) {
    const v = Number(lab);
    drawLine(g, p.id + '-x-tick-' + lab, '#000', 2, xScale(v), p.yLow, xScale(v), p.yLow + 5);
    drawTick(g, p.id + '-x-tick-label-' + lab, lab, 'middle', xScale(v), p.yLow + 25.5);
  });
  yTicks.forEach(function (lab) {
    const v = Number(lab);
    drawLine(g, p.id + '-y-tick-' + lab, '#000', 2, p.xA - 5, yScale(v), p.xA, yScale(v));
    drawTick(g, p.id + '-y-tick-label-' + lab, lab, 'end', p.xA - 8, yScale(v) + 7);
  });
});

/* stretch annotation text to its measured width in the figure */
document.querySelectorAll('text[data-w]').forEach(function (t) {
  const target = Number(t.getAttribute('data-w'));
  const len = t.getComputedTextLength();
  if (!len) return;
  const x = t.getAttribute('x');
  const y = t.getAttribute('y');
  const base = t.getAttribute('transform') || '';
  const k = (target / len).toFixed(3);
  t.setAttribute('transform', base + ' translate(' + x + ' ' + y + ') scale(' + k + ' 1) translate(' + (-x) + ' ' + (-y) + ')');
});
</script>
</body>
</html>
